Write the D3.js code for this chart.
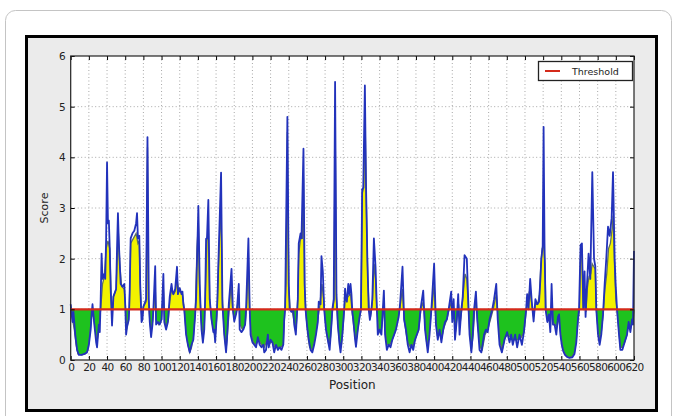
<!DOCTYPE html>
<html>
<head>
<meta charset="utf-8">
<script src="https://d3js.org/d3.v7.min.js"></script>
<style>
  body { margin: 0; background: #fff; }
  svg text { font-family: "DejaVu Sans", sans-serif; }
</style>
</head>
<body>
<div class="vis"></div>
<script>
  let width = 677
  let height = 416

  // raw score (blue line)
  let scorePos = [0,2,3,5,7,9,12,15,18,20,22,23,24,26,28,29,31,32,33,34,35,37,38,39,40,41,42,43,44,45.5,47,49,50,51,52,53,55,57,59,60,61,62,64,65,66,68,70,72,73,74,75.5,76.5,78,79,80,82,83,84.5,86,87,88.5,90,91,93,94,96,98,100,102,103,105,107,109,111,112,113,115,117,118,120,122,123,124,125,127,129,131,133,135,137,138,140.5,142,143,144,145.5,147,148,149,150,151.5,153,155,157,158,159,160.5,161.5,163,165.5,167,169,171,172,174,177,178.5,180,182,183,185,186,188,190,192,193,195.6,197,198,200,202,204,206,208,210,212,213,215,217,218,220,222,224,226,228,230,232,234,235,236,238.5,240,241,243,245,246,247.8,249,250,251,253,254,256.2,257.5,258.5,260,262,264,266,268,270,272,273,275,276,277.5,279,281,283,285,287,288,289.5,291,292.5,294,296,297,299,301,302,303,304,305.5,306.5,308,309,310,311,313,314,316,318,319.5,320.8,322,323.8,325,326.5,328,329.3,331,332,333.7,335.5,337,338,340,342,344.7,346,348,350,352,354,356,358,361,362.5,365.2,367,369,371,373,375,377,379,381,383,385,388,390,393,395,397,400,402,404,406,408,410,412,414,416,418.8,420,421.5,423,425,426.5,428,430,431.5,433.5,436,437.5,439,441,442.5,444,446,447.5,450,452,455,457,459,461,464,466,468.4,470,472,474.6,477.5,480.4,483,484.8,486.6,489.2,491.4,494,496.6,498.8,501.3,502.4,503.9,505.7,507.5,509.5,511.5,513.5,515.5,517,518,519.5,520.5,521.5,522.7,524.6,526.4,527.9,529.3,530.8,532.6,534.5,536.3,537.5,539,540.5,542,544,546.5,549,552,554.5,556.5,558.3,559.5,561.2,562.7,564.2,565.6,566.7,568.3,570,571.9,574.1,576,577.4,578.5,580.4,582.2,584,585.9,587.7,589.5,591.4,593.2,595.4,596.9,598.7,599.8,601.3,603.5,605,607.2,609.7,612.3,614.1,616,617.8,618.9,620]
  let scoreVal = [1.1,0.75,0.95,0.5,0.2,0.1,0.1,0.12,0.15,0.3,0.6,0.9,1.1,0.7,0.35,0.25,0.7,0.55,1.2,2.1,1.6,1.7,1.6,2.4,3.9,2.7,2.75,2.2,1.4,0.68,1.25,1.35,1.4,2.2,2.9,2.3,1.5,1.45,1.5,1.1,0.5,0.65,0.8,1.4,2.4,2.5,2.55,2.7,2.9,2.4,2.45,1.5,0.75,0.8,1.05,1.15,1.2,4.4,1.2,0.75,0.45,0.7,1.0,1.85,0.7,0.75,0.7,0.8,1.7,0.75,0.6,0.75,1.25,1.5,1.35,1.3,1.4,1.84,1.3,1.42,1.3,1.35,1.1,1.0,0.5,0.3,0.15,0.3,0.4,0.9,1.2,3.04,1.5,1.0,0.6,0.34,0.6,1.2,2.39,2.4,3.16,1.2,0.8,0.55,0.6,0.35,0.8,1.2,2.2,3.7,1.1,0.5,0.15,0.4,1.1,1.8,1.0,0.76,0.9,1.0,1.5,0.6,0.55,0.6,0.7,1.0,2.4,1.0,0.5,0.35,0.3,0.25,0.45,0.3,0.25,0.3,0.15,0.2,0.5,0.25,0.4,0.35,0.15,0.3,0.2,0.25,0.2,0.3,0.8,1.0,4.8,1.5,1.0,0.95,1.0,0.7,0.5,0.9,1.2,2.3,2.5,2.4,4.17,1.5,1.0,0.7,0.4,0.2,0.15,0.3,0.5,0.75,1.15,1.1,2.05,1.74,1.0,0.6,0.4,0.2,0.7,1.0,1.2,5.49,1.3,0.7,0.3,0.15,0.5,1.0,1.41,1.2,1.15,1.5,1.3,1.5,1.3,0.95,0.8,0.4,0.26,0.6,0.85,1.0,3.37,3.4,5.42,3.5,2.0,1.0,0.79,1.0,1.2,2.4,1.85,1.0,0.5,0.6,0.5,1.37,0.5,0.2,0.3,0.25,0.4,0.5,0.6,0.85,1.1,1.84,0.8,0.6,0.3,0.15,0.3,0.2,0.4,0.5,0.6,1.0,1.37,0.6,0.15,0.5,1.0,1.9,0.7,0.4,0.6,0.35,0.6,0.75,0.8,1.0,1.35,0.75,1.2,0.4,0.8,1.3,0.5,1.0,1.25,2.07,2.0,1.2,0.5,0.15,0.5,1.0,1.35,0.8,0.2,0.15,0.5,0.6,0.55,0.8,1.0,1.2,1.5,0.8,0.3,0.15,0.4,0.55,0.35,0.5,0.3,0.5,0.25,0.5,0.3,0.55,1.0,1.3,1.0,1.6,1.15,0.76,1.2,1.1,1.15,1.6,2.0,2.25,4.6,2.3,1.0,0.75,0.9,0.55,1.5,0.7,0.7,0.5,0.85,0.9,0.5,0.3,0.18,0.1,0.06,0.04,0.05,0.12,0.35,0.8,1.0,2.27,2.3,1.0,1.75,0.85,1.5,2.1,1.6,3.71,2.0,1.85,1.0,0.5,0.3,0.5,0.9,1.5,2.0,2.63,2.45,2.8,3.71,2.0,1.5,1.0,0.5,0.2,0.2,0.35,0.5,0.75,0.55,0.8,0.7,2.15]

  // smoothed score (edge of the yellow / green fill)
  let fillPos = [0,2,4,6,8,12,16,19,21,23,25,27,29,31,33,35,37,39,41,43,44.5,45.5,47,50,51.5,52.5,54,56,59,60.5,61.5,63,64.5,66,69,72,74,75.5,76.5,77.5,78.5,80,83,84.5,85.5,87,88.5,90.5,92,93,94,97,100,102,103.5,105,107.5,109,111,113,115,117,119,121,123,125,127,129,131,133,135,137,139,140.5,142,143.5,145.5,147,148.5,150,151.5,153,155,157,159,161,162.5,164,165.5,167,169,171,172.5,174.5,176.5,178,180,183,185,186.5,189,192,193.5,195.5,197,198.5,201,204,207,210,213,216,219,222,225,228,231,234,235.5,237,238.5,240,241.5,244,246,248,249.5,251,253,255,256.2,257.5,259,261,263,266,268,270,272,274,276.5,278.5,280,282,284,286,288,290,291,292.5,294,296,298,300,302,305,308,310,312,314,316,318,319.5,321,322.5,324,325.5,327,328.5,330,332,334,335.5,337,339,342,344.5,346,348,351,354,357,360,362.5,365,367,369,371,374,377,380,383,385.5,388,390,392,394,396.5,398.5,400,401.5,403.5,406,408.5,411,414,416.5,419,420.5,422,423.5,425.5,427,428.5,430.5,432,434,436,437.5,439,441,443,444.5,446,448,450.5,453,456,459,462,465,468.5,470.5,472.5,475,478,481,484,487,490,493,496,499,501.5,503,505.5,507.5,509.5,511.5,514,516,517.5,519,520.5,522,523,524.6,526.5,528,529.5,531,533,535,537,539,541,543,546,549,552,554.5,556.5,558.5,560,561.2,562.7,564.2,566,567,568.5,570.5,572.5,574,575.5,577.4,578.5,580.4,582.2,584,586,588,590,592,594,596,597,598.7,600,601.3,603.5,605,607.2,609.7,612.3,614.1,616,618,619,620]
  let fillVal = [1.0,0.8,0.6,0.3,0.12,0.1,0.12,0.2,0.5,0.85,0.9,0.6,0.35,0.65,1.0,1.5,1.65,2.2,2.35,2.2,1.3,0.9,1.25,1.4,2.2,2.5,1.9,1.45,1.4,1.0,0.6,0.75,1.0,2.3,2.4,2.5,2.3,2.35,1.5,1.0,0.8,1.05,1.15,4.2,1.2,0.8,0.55,0.8,1.2,1.5,0.8,0.7,0.8,1.4,0.8,0.65,0.8,1.15,1.4,1.3,1.35,1.6,1.35,1.35,1.3,1.0,0.55,0.3,0.15,0.25,0.45,0.9,2.2,2.7,1.4,0.8,0.4,0.65,1.5,2.35,2.6,1.2,0.8,0.6,0.45,0.9,1.8,2.5,2.9,1.2,0.55,0.2,0.5,1.0,1.5,1.05,0.8,1.0,1.3,0.7,0.6,0.7,1.0,2.0,1.0,0.55,0.35,0.3,0.4,0.3,0.25,0.4,0.35,0.35,0.25,0.25,0.25,0.3,0.9,1.5,4.5,1.4,1.0,0.95,0.75,0.6,1.0,2.1,2.4,2.4,3.6,1.4,0.9,0.5,0.25,0.2,0.35,0.55,0.8,1.05,1.5,1.2,0.8,0.5,0.3,0.45,0.95,1.2,4.9,1.2,0.7,0.3,0.3,0.7,1.2,1.25,1.3,0.9,0.6,0.35,0.6,0.85,1.0,3.3,3.4,4.8,3.0,1.6,1.0,0.85,1.15,1.9,1.6,1.0,0.6,0.6,1.1,0.6,0.3,0.3,0.4,0.55,0.8,1.05,1.4,0.8,0.55,0.35,0.25,0.3,0.45,0.6,1.0,1.15,0.7,0.3,0.4,0.9,1.2,1.5,0.9,0.5,0.55,0.45,0.65,0.8,1.0,1.15,0.85,1.0,0.55,0.9,1.1,0.7,1.0,1.3,1.7,1.6,1.1,0.6,0.2,0.5,0.95,1.15,0.7,0.25,0.2,0.5,0.6,0.8,1.0,1.3,0.8,0.35,0.2,0.45,0.5,0.45,0.4,0.4,0.4,0.45,0.55,1.0,1.2,1.4,1.1,0.85,1.1,1.1,1.3,1.9,2.2,2.25,1.9,1.0,0.8,0.85,0.65,1.2,0.75,0.7,0.65,0.85,0.55,0.3,0.15,0.07,0.05,0.07,0.15,0.4,0.8,1.0,2.1,2.2,1.0,1.2,0.95,1.4,1.65,1.7,1.9,1.85,1.8,1.0,0.6,0.4,0.55,0.9,1.4,1.7,2.2,2.3,2.6,2.85,1.8,1.2,1.0,0.55,0.25,0.25,0.35,0.5,0.7,0.6,0.75,0.75,1.0]

  let threshold = 1
  let xTicks = d3.range(0, 621, 20)
  let yTicks = [0, 1, 2, 3, 4, 5, 6]

  let score = scorePos.map((p, i) => ({ p: p, v: scoreVal[i] }))
  let smooth = fillPos.map((p, i) => ({ p: p, v: fillVal[i] }))

  let svg = d3.select('.vis').append('svg')
    .attr('width', width)
    .attr('height', height)

  // page frame
  svg.append('rect')
    .attr('x', 5.5).attr('y', 10.5)
    .attr('width', 666).attr('height', 430)
    .attr('rx', 10)
    .attr('fill', '#fff')
    .attr('stroke', '#c4c4c4')

  svg.append('rect')
    .attr('x', 26.5).attr('y', 36.5)
    .attr('width', 630).attr('height', 374)
    .attr('fill', '#ebebeb')
    .attr('stroke', '#000')
    .attr('stroke-width', 3)

  let x = d3.scaleLinear().domain([0, 620]).range([70.7, 634])
  let y = d3.scaleLinear().domain([0, 6]).range([360, 56])

  svg.append('rect')
    .attr('x', x(0)).attr('y', y(6))
    .attr('width', x(620) - x(0)).attr('height', y(0) - y(6))
    .attr('fill', '#fff')

  // grid
  svg.append('g')
    .selectAll('line')
    .data(xTicks.slice(1, -1))
    .join('line')
      .attr('x1', d => x(d)).attr('x2', d => x(d))
      .attr('y1', y(6)).attr('y2', y(0))
      .attr('stroke', '#a8a8a8')
      .attr('stroke-dasharray', '1,2.5')

  svg.append('g')
    .selectAll('line')
    .data(yTicks.slice(1, -1))
    .join('line')
      .attr('x1', x(0)).attr('x2', x(620))
      .attr('y1', d => y(d)).attr('y2', d => y(d))
      .attr('stroke', '#a8a8a8')
      .attr('stroke-dasharray', '1,2.5')

  // fills, split at the threshold
  let defs = svg.append('defs')
  defs.append('clipPath').attr('id', 'above')
    .append('rect')
      .attr('x', x(0)).attr('y', y(6))
      .attr('width', x(620) - x(0)).attr('height', y(threshold) - y(6))
  defs.append('clipPath').attr('id', 'below')
    .append('rect')
      .attr('x', x(0)).attr('y', y(threshold))
      .attr('width', x(620) - x(0)).attr('height', y(0) - y(threshold))

  let area = d3.area()
    .x(d => x(d.p))
    .y0(y(threshold))
    .y1(d => y(d.v))

  svg.append('path')
    .datum(smooth)
    .attr('d', area)
    .attr('fill', '#f2f200')
    .attr('clip-path', 'url(#above)')

  svg.append('path')
    .datum(smooth)
    .attr('d', area)
    .attr('fill', '#1ec21e')
    .attr('clip-path', 'url(#below)')

  let line = d3.line()
    .x(d => x(d.p))
    .y(d => y(d.v))

  svg.append('path')
    .datum(smooth)
    .attr('d', line)
    .attr('fill', 'none')
    .attr('stroke', '#5f7060')
    .attr('stroke-width', 1.3)

  svg.append('path')
    .datum(score)
    .attr('d', line)
    .attr('fill', 'none')
    .attr('stroke', '#2232bb')
    .attr('stroke-width', 1.8)
    .attr('stroke-linejoin', 'round')

  svg.append('line')
    .attr('x1', x(0)).attr('x2', x(620))
    .attr('y1', y(threshold)).attr('y2', y(threshold))
    .attr('stroke', '#d42a1a')
    .attr('stroke-width', 2.2)

  // axes
  let xAxis = g => g
    .attr('transform', `translate(0,${y(0)})`)
    .call(d3.axisBottom(x).tickValues(xTicks).tickSize(-4).tickPadding(4).tickFormat(d3.format('d')))
    .call(g => g.select('.domain').remove())
    .call(g => g.selectAll('text').attr('fill', '#222').style('font-size', '10.5px').attr('letter-spacing', '-0.6'))

  let xTop = g => g
    .attr('transform', `translate(0,${y(6)})`)
    .call(d3.axisTop(x).tickValues(xTicks).tickSize(-4).tickFormat(''))
    .call(g => g.select('.domain').remove())

  let yAxis = g => g
    .attr('transform', `translate(${x(0)},0)`)
    .call(d3.axisLeft(y).tickValues(yTicks).tickSize(-4).tickPadding(5).tickFormat(d3.format('d')))
    .call(g => g.select('.domain').remove())
    .call(g => g.selectAll('text').attr('fill', '#222').style('font-size', '10.5px'))

  let yRight = g => g
    .attr('transform', `translate(${x(620)},0)`)
    .call(d3.axisRight(y).tickValues(yTicks).tickSize(-4).tickFormat(''))
    .call(g => g.select('.domain').remove())

  svg.append('g').call(xAxis)
  svg.append('g').call(xTop)
  svg.append('g').call(yAxis)
  svg.append('g').call(yRight)

  svg.append('rect')
    .attr('x', x(0)).attr('y', y(6))
    .attr('width', x(620) - x(0)).attr('height', y(0) - y(6))
    .attr('fill', 'none')
    .attr('stroke', '#222')
    .attr('stroke-width', 1.2)

  svg.append('text')
    .attr('x', (x(0) + x(620)) / 2)
    .attr('y', 389)
    .attr('text-anchor', 'middle')
    .style('font-size', '12px')
    .attr('fill', '#222')
    .text('Position')

  svg.append('text')
    .attr('transform', `translate(48,${(y(0) + y(6)) / 2})rotate(-90)`)
    .attr('text-anchor', 'middle')
    .style('font-size', '11px')
    .attr('fill', '#222')
    .text('Score')

  // legend
  let legend = svg.append('g').attr('transform', 'translate(538,61)')
  legend.append('rect')
    .attr('x', 0.5).attr('y', 0.5)
    .attr('width', 94).attr('height', 19)
    .attr('fill', '#fff')
    .attr('stroke', '#222')
    .attr('stroke-width', 1.3)
  legend.append('line')
    .attr('x1', 7).attr('x2', 22)
    .attr('y1', 10).attr('y2', 10)
    .attr('stroke', '#d42a1a')
    .attr('stroke-width', 2)
  legend.append('text')
    .attr('x', 34).attr('y', 13.5)
    .style('font-size', '9.5px')
    .attr('fill', '#222')
    .text('Threshold')
</script>
</body>
</html>
